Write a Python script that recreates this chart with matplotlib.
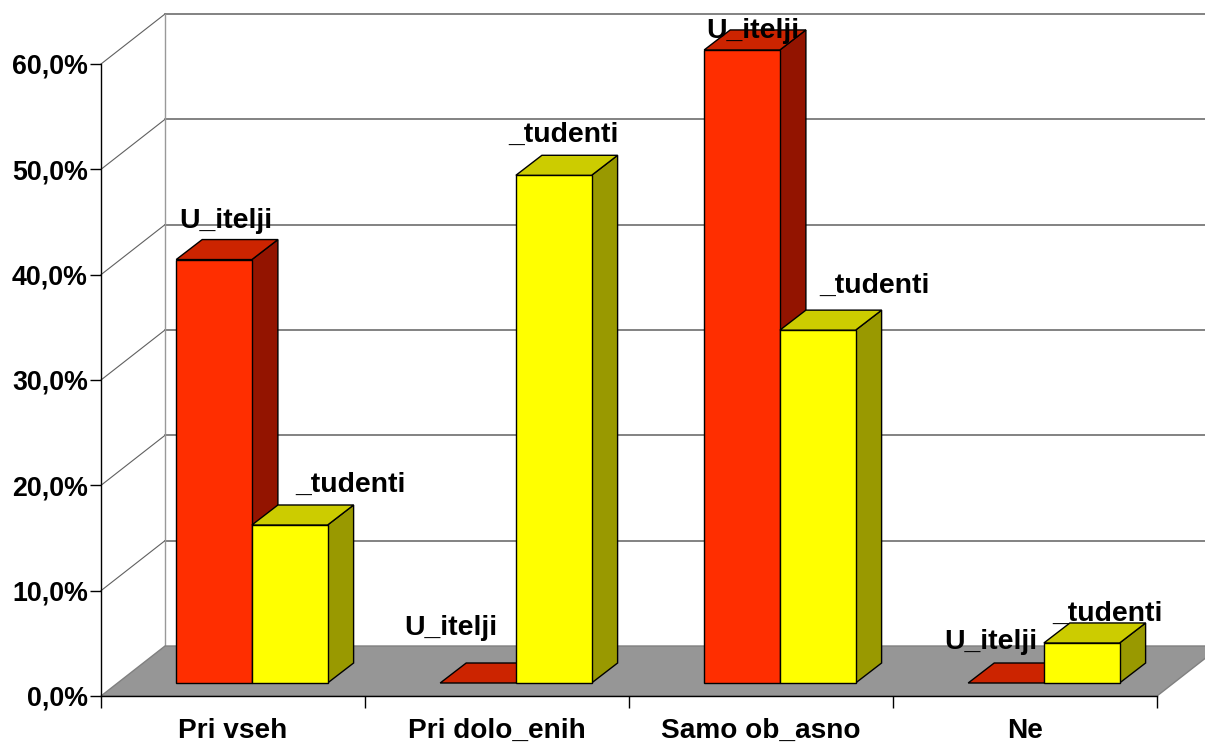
import matplotlib
matplotlib.use('Agg')
import matplotlib.pyplot as plt

plt.rcParams['font.family'] = ['Liberation Sans', 'DejaVu Sans']
plt.rcParams['font.weight'] = 'bold'

# values (the lost letters are lost in the original too)
categories = ['Pri vseh', 'Pri dolo_enih', 'Samo ob_asno', 'Ne']
ucitelji = [40.2, 0.0, 60.1, 0.0]
studenti = [15.0, 48.2, 33.5, 3.8]
y_ticks = [0, 10, 20, 30, 40, 50, 60]
y_tick_labels = ['0,0%', '10,0%', '20,0%', '30,0%', '40,0%', '50,0%', '60,0%']

# hand placed labels: pixels from the front left corner of the bar top
ucitelji_label_offset = [(50, 39), (11, 55), (49, 19), (23, 41)]
studenti_label_offset = [(99, 40), (48, 40), (95, 44), (64, 29)]

# pixels of the plot area in the 1205x742 figure
left, right, top, bottom = 101, 1157, 64, 696
px_x = 4 / (right - left)
px_y = 60 / (bottom - top)

# oblique depth of the chart box and of the bars
wall_dx, wall_dy = 64 * px_x, 50 * px_y
bar_dx, bar_dy = 26 * px_x, 20 * px_y
bar_start = 75.2 * px_x
bar_width = 75.7 * px_x
bar_base = 13 * px_y

fig = plt.figure(figsize=(12.05, 7.42), dpi=100)
ax = fig.add_axes([left / 1205, 1 - bottom / 742, (right - left) / 1205, (bottom - top) / 742])
ax.set_xlim(0, 4)
ax.set_ylim(0, 60)
ax.patch.set_visible(False)


def face(points, color, edge='#000000', z=3):
    ax.fill(*zip(*points), facecolor=color, edgecolor=edge, linewidth=1.0,
            joinstyle='miter', clip_on=False, zorder=z)


def box(x, value, front, top_col, side_col):
    y0 = bar_base
    y1 = bar_base + value
    x1 = x + bar_width
    if value > 0:
        face([(x1, y0), (x1 + bar_dx, y0 + bar_dy), (x1 + bar_dx, y1 + bar_dy), (x1, y1)], side_col)
        face([(x, y0), (x1, y0), (x1, y1), (x, y1)], front)
    face([(x, y1), (x1, y1), (x1 + bar_dx, y1 + bar_dy), (x + bar_dx, y1 + bar_dy)], top_col)


# back wall, floor
for v in y_ticks[1:]:
    ax.plot([0, wall_dx], [v, v + wall_dy], color='#606060', lw=0.8, clip_on=False, zorder=1)
    ax.plot([wall_dx, 4.3], [v + wall_dy, v + wall_dy], color='#606060', lw=1.1, clip_on=False, zorder=1)
ax.plot([wall_dx, wall_dx], [wall_dy, 60 + wall_dy], color='#999999', lw=1.0, clip_on=False, zorder=1)
face([(0, 0), (4, 0), (4 + wall_dx, wall_dy), (wall_dx, wall_dy)], '#969696', edge='#808080', z=2)

# bars
for i in range(len(categories)):
    x = i + bar_start
    box(x, ucitelji[i], '#FF2E00', '#CC2400', '#931400')
    box(x + bar_width, studenti[i], '#FFFF00', '#CCCC00', '#999900')

for i in range(len(categories)):
    x = i + bar_start
    ax.annotate('U_itelji', (x, bar_base + ucitelji[i]), xytext=ucitelji_label_offset[i],
                textcoords='offset pixels', ha='center', va='center', fontsize=20.4,
                color='#000000', annotation_clip=False, zorder=5)
    ax.annotate('_tudenti', (x + bar_width, bar_base + studenti[i]), xytext=studenti_label_offset[i],
                textcoords='offset pixels', ha='center', va='center', fontsize=20.4,
                color='#000000', annotation_clip=False, zorder=5)

# axes
for s in ['top', 'right']:
    ax.spines[s].set_visible(False)
for s in ['left', 'bottom']:
    ax.spines[s].set_linewidth(1.0)
    ax.spines[s].set_zorder(4)
ax.set_yticks(y_ticks)
ax.set_yticklabels(y_tick_labels, fontsize=19.3, fontweight='bold', color='#000000')
ax.tick_params(axis='y', length=8, width=1.0, pad=1.5)
ax.set_xticks(range(len(categories) + 1))
ax.set_xticklabels([])
ax.tick_params(axis='x', which='major', length=8.6, width=1.0)
ax.set_xticks([i + 0.5 for i in range(len(categories))], minor=True)
ax.set_xticklabels(categories, minor=True, fontsize=20.2, fontweight='bold')
ax.tick_params(axis='x', which='minor', length=0, pad=15.5)

fig.savefig('out.png', dpi=100)
